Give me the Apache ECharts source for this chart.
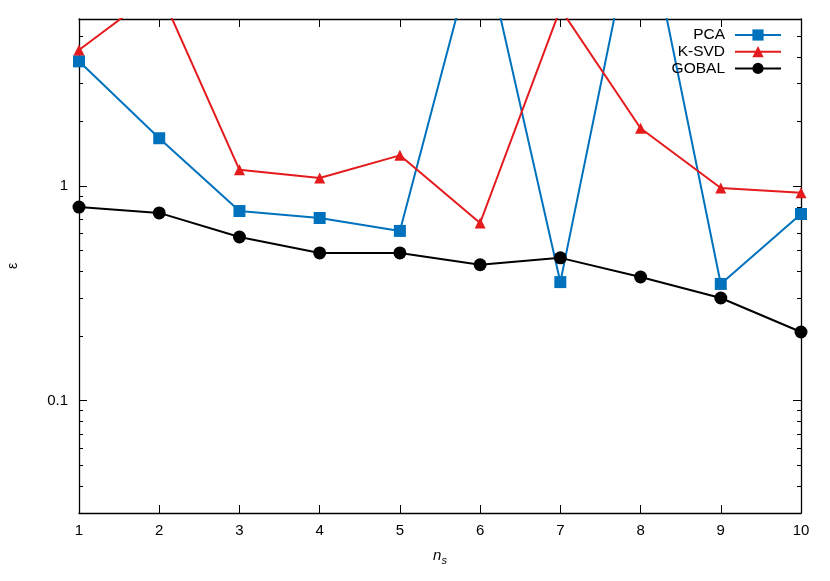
<!DOCTYPE html>
<html><head><meta charset="utf-8">
<script src="https://cdn.jsdelivr.net/npm/echarts@6/dist/echarts.min.js"></script>
<style>html,body{margin:0;padding:0;background:#fff}#c{width:830px;height:581px}</style>
</head><body><div id="c"></div>
<script>
const categories = [1, 2, 3, 4, 5, 6, 7, 8, 9, 10];
const pca   = [3.81, 1.67, 0.765, 0.71, 0.618, 16, 0.357, 24, 0.35, 0.741];
const ksvd  = [4.3, 8.2, 1.19, 1.09, 1.39, 0.673, 6.7, 1.86, 0.98, 0.93];
const gobal = [0.798, 0.75, 0.579, 0.488, 0.488, 0.43, 0.463, 0.377, 0.301, 0.209];
const yMajor = [0.1, 1];
const yMinor = [0.04, 0.05, 0.06, 0.07, 0.08, 0.09, 0.2, 0.3, 0.4, 0.5, 0.6, 0.7, 0.8, 0.9, 2, 3, 4, 5];
const seriesNames = ['PCA', 'K-SVD', 'GOBAL'];

const FONT = 'Liberation Sans, Arial, Helvetica, sans-serif';
const chart = echarts.init(document.getElementById('c'));
function pairs(v){ return categories.map((x,i)=>[x, v[i]]); }
function yAx(pos, ticks, len, labels, line){
  return {
    type:'log', logBase:10, min:0.03, max:6, position:pos, offset:0,
    axisLine:{show:line, lineStyle:{color:'#000', width:1.3}},
    axisTick:{show:true, inside:true, length:len, customValues:ticks, lineStyle:{color:'#000', width:1}},
    axisLabel:{show:labels, customValues:yMajor, color:'#000', fontSize:15, fontFamily:FONT, margin:11,
      formatter:v=>String(v)},
    splitLine:{show:false}, minorTick:{show:false}
  };
}
function xAx(pos, labels){
  return {
    type:'value', min:1, max:10, interval:1, position:pos,
    axisLine:{show:true, onZero:false, lineStyle:{color:'#000', width:1.3}},
    axisTick:{show:true, inside:true, length:8, lineStyle:{color:'#000', width:1}},
    axisLabel:{show:labels, color:'#000', fontSize:15, fontFamily:FONT, margin:10},
    splitLine:{show:false}
  };
}
const xa0 = xAx('bottom', true);
xa0.name = '{n|n}{s|s}';
xa0.nameLocation = 'middle';
xa0.nameGap = 33;
xa0.nameTextStyle = {rich:{
  n:{fontSize:15, fontStyle:'italic', fontFamily:FONT, color:'#000', lineHeight:20},
  s:{fontSize:11, fontStyle:'italic', fontFamily:FONT, color:'#000', lineHeight:20, padding:[9,0,0,0]}
}};
const ya0 = yAx('left', yMajor, 8, true, true);
ya0.name = 'ε';
ya0.nameLocation = 'middle';
ya0.nameRotate = 90;
ya0.nameGap = 59;
ya0.nameTextStyle = {fontSize:14, fontFamily:FONT, color:'#000'};

const colors = ['#0072bd', '#e41a1c', '#000000'];
const symbols = ['rect', 'triangle', 'circle'];
const sizes = [12, 11, 13];
const datas = [pca, ksvd, gobal];

chart.setOption({
  animation:false,
  backgroundColor:'#fff',
  grid:{left:79, right:29, top:19, bottom:68, containLabel:false, outerBoundsMode:'none'},
  xAxis:[xa0, xAx('top', false)],
  yAxis:[ya0, yAx('left', yMinor, 4, false, false), yAx('right', yMajor, 8, false, true), yAx('right', yMinor, 4, false, false)],
  legend:{
    orient:'vertical', right:43, top:22, align:'right',
    itemWidth:46, itemHeight:14, itemGap:0.7,
    textStyle:{fontSize:15.5, fontFamily:FONT, color:'#000', lineHeight:16, padding:[0,5,0,0]},
    data:seriesNames
  },
  series: seriesNames.map((n,i)=>({
    name:n, type:'line', xAxisIndex:0, yAxisIndex:0,
    data:pairs(datas[i]), symbol:symbols[i], symbolSize:sizes[i], showAllSymbol:true,
    lineStyle:{color:colors[i], width:2}, itemStyle:{color:colors[i]},
    clip:true, z:2+ (i===2?1:0)
  }))
});
</script></body></html>
